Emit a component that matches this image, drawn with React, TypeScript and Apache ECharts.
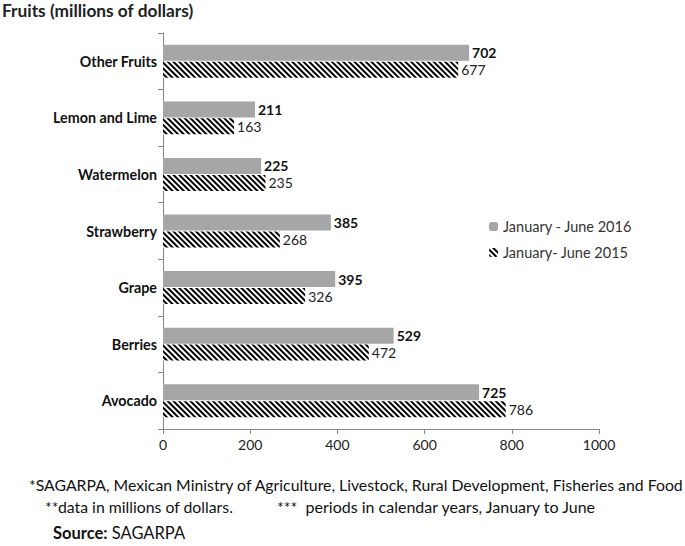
import React, { useEffect, useRef } from "react";
import * as echarts from "echarts";

const categories = ["Avocado", "Berries", "Grape", "Strawberry", "Watermelon", "Lemon and Lime", "Other Fruits"];
const values2016 = [725, 529, 395, 385, 225, 211, 702];
const values2015 = [786, 472, 326, 268, 235, 163, 677];
const seriesNames = ["January - June 2016", "January- June 2015"];
const xTicks = { min: 0, max: 1000, interval: 200 };
const titleText = "Fruits (millions of dollars)";
const note1 = "*SAGARPA, Mexican Ministry of Agriculture, Livestock, Rural Development, Fisheries and Food";
const note2a = "**data in millions of dollars.";
const note2b = "***  periods in calendar years, January to June";

const FONT = "Lato, 'Open Sans', sans-serif";

export default function App() {
  const ref = useRef<HTMLDivElement>(null);
  useEffect(() => {
    const chart = echarts.init(ref.current!, null, { renderer: "svg" });
    chart.setOption({
      animation: false,
      aria: { enabled: false, decal: { show: false } },
      textStyle: { fontFamily: FONT },
      grid: { left: 163, right: 86, top: 33, bottom: 117 },
      legend: {
        orient: "vertical",
        left: 484,
        top: 214,
        itemWidth: 9,
        itemHeight: 9,
        itemGap: 11,
        data: [seriesNames[0], seriesNames[1]],
        textStyle: { fontFamily: FONT, fontSize: 14.5, color: "#333" },
      },
      xAxis: {
        type: "value",
        min: xTicks.min,
        max: xTicks.max,
        interval: xTicks.interval,
        splitLine: { show: false },
        axisLine: { show: true, lineStyle: { color: "#868686" } },
        axisTick: { show: true, length: 5, lineStyle: { color: "#868686" } },
        axisLabel: { fontFamily: FONT, fontSize: 14, color: "#222", margin: 8, formatter: (v: number) => String(v) },
      },
      yAxis: {
        type: "category",
        data: categories,
        axisLine: { show: true, lineStyle: { color: "#868686" } },
        axisTick: { show: true, length: 5, alignWithLabel: false, lineStyle: { color: "#868686" } },
        axisLabel: { fontFamily: FONT, fontSize: 14.3, fontWeight: "bold", color: "#111", margin: 6 },
      },
      series: [
        {
          name: seriesNames[0],
          type: "bar",
          data: values2016,
          barWidth: 16,
          barGap: "6%",
          itemStyle: { color: "#a6a6a6" },
          label: { show: true, position: "right", distance: 3, fontFamily: FONT, fontSize: 14, fontWeight: "bold", color: "#111" },
        },
        {
          name: seriesNames[1],
          type: "bar",
          data: values2015,
          barWidth: 16,
          barGap: "6%",
          itemStyle: {
            color: "#ffffff",
            decal: {
              symbol: "rect",
              symbolSize: 1,
              color: "#000000",
              backgroundColor: "#ffffff",
              dashArrayX: [1, 0],
              dashArrayY: [1.7, 1.3],
              rotation: Math.PI / 4,
            },
          },
          label: { show: true, position: "right", distance: 3, fontFamily: FONT, fontSize: 14, color: "#222" },
        },
      ],
      graphic: [
        { type: "text", left: 2, top: 2, style: { text: titleText, fontFamily: FONT, fontSize: 17.3, fontWeight: "bold", fill: "#222" } },
        { type: "text", left: 29, top: 476, style: { text: note1, fontFamily: FONT, fontSize: 15.8, fill: "#111" } },
        { type: "text", left: 45, top: 498, style: { text: note2a, fontFamily: FONT, fontSize: 15.8, fill: "#111" } },
        { type: "text", left: 277, top: 498, style: { text: note2b, fontFamily: FONT, fontSize: 16, fill: "#111" } },
        {
          type: "text",
          left: 53,
          top: 524,
          style: {
            text: "{b|Source:} SAGARPA",
            fontFamily: FONT,
            fontSize: 16.5,
            fill: "#111",
            rich: { b: { fontWeight: "bold", fontFamily: FONT, fontSize: 16.5 } },
          },
        },
      ],
    });
    return () => chart.dispose();
  }, []);
  return <div ref={ref} style={{ position: "absolute", left: 0, top: 0, width: 685, height: 546 }} />;
}
